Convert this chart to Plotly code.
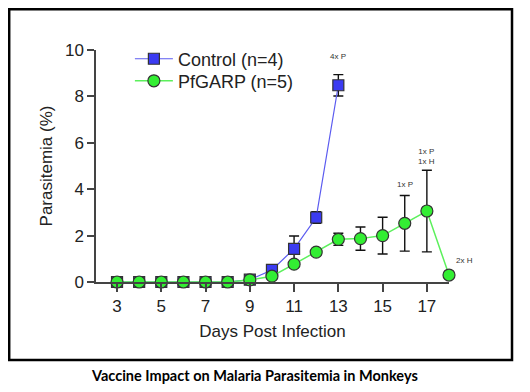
import plotly.graph_objects as go

days_control = [3, 4, 5, 6, 7, 8, 9, 10, 11, 12, 13]
control_mean = [0, 0, 0, 0, 0, 0, 0.1, 0.52, 1.43, 2.78, 8.48]
control_err = [0, 0, 0, 0, 0, 0, 0.02, 0.08, 0.55, 0.25, 0.46]

days_pfgarp = [3, 4, 5, 6, 7, 8, 9, 10, 11, 12, 13, 14, 15, 16, 17, 18]
pfgarp_mean = [0, 0, 0, 0, 0, 0, 0.09, 0.25, 0.77, 1.29, 1.84, 1.87, 2.0, 2.53, 3.06, 0.3]
pfgarp_err = [0, 0, 0, 0, 0, 0, 0.02, 0.04, 0.08, 0.08, 0.26, 0.5, 0.79, 1.2, 1.76, 0.13]

note_days = [13, 16, 17, 18]
note_vals = [9.7, 4.22, 5.42, 0.92]
note_texts = ["4x P", "1x P", "1x P<br>1x H", "2x H"]
note_shift = [0, 0, 0, 15]

x_ticks = [3, 5, 7, 9, 11, 13, 15, 17]
y_ticks = [0, 2, 4, 6, 8, 10]

font_main = "Liberation Sans, Arial, sans-serif"

fig = go.Figure()
fig.add_trace(go.Scatter(
    x=days_control, y=control_mean, name="Control (n=4)", mode="lines+markers",
    line=dict(color="#5b5bf0", width=1.2),
    marker=dict(symbol="square", size=11, color="#3b3bf2", line=dict(color="#333333", width=1.2)),
    error_y=dict(type="data", array=control_err, visible=True, color="#111111", thickness=1.4, width=5),
    cliponaxis=False, legend="legend",
))
fig.add_trace(go.Scatter(
    x=days_pfgarp, y=pfgarp_mean, name="PfGARP (n=5)", mode="lines+markers",
    line=dict(color="#5cf05c", width=1.5),
    marker=dict(symbol="circle", size=12, color="#33ee33", line=dict(color="#333333", width=1.2)),
    error_y=dict(type="data", array=pfgarp_err, visible=True, color="#111111", thickness=1.4, width=5),
    cliponaxis=False, legend="legend2",
))

for xd, yd, t, s in zip(note_days, note_vals, note_texts, note_shift):
    fig.add_annotation(x=xd, y=yd, text=t, showarrow=False, xref="x", yref="y", xshift=s,
                       font=dict(size=8, color="#333333", family=font_main))

fig.add_annotation(x=0.45, y=-0.401, xref="paper", yref="paper", xanchor="center", yanchor="middle",
                   text="<b>Vaccine Impact on Malaria Parasitemia in Monkeys</b>",
                   showarrow=False, font=dict(size=14.5, color="#000000", family="Lato, Open Sans, sans-serif"))

fig.add_shape(type="rect", xref="paper", yref="paper",
              x0=-0.2459, x1=1.1785, y0=-0.336, y1=1.1759,
              line=dict(color="#000000", width=2.5), fillcolor="rgba(0,0,0,0)")

leg_common = dict(xanchor="left", yanchor="middle", itemwidth=38,
                  font=dict(size=18, color="#222222", family=font_main),
                  bgcolor="rgba(0,0,0,0)")

fig.update_layout(
    width=522, height=384,
    margin=dict(l=88, r=81, t=42, b=110, autoexpand=False),
    paper_bgcolor="white", plot_bgcolor="white",
    font=dict(family=font_main, color="#222222"),
    showlegend=True,
    legend=dict(x=0.096, y=0.961, **leg_common),
    legend2=dict(x=0.096, y=0.866, **leg_common),
    xaxis=dict(range=[2.05, 18], tickvals=x_ticks, ticks="outside", ticklen=8, tickwidth=1.5,
               tickcolor="#444444", showline=True, linecolor="#444444", linewidth=1.5,
               showgrid=False, zeroline=False, tickfont=dict(size=17, color="#222222"),
               title=dict(text="Days Post Infection", font=dict(size=17, color="#222222"), standoff=10)),
    yaxis=dict(range=[0, 10], tickvals=y_ticks, ticks="outside", ticklen=7, tickwidth=1.5,
               tickcolor="#444444", showline=True, linecolor="#444444", linewidth=1.5,
               showgrid=False, zeroline=False, tickfont=dict(size=17, color="#222222"),
               title=dict(text="Parasitemia (%)", font=dict(size=17, color="#222222"), standoff=8)),
)

fig.write_html("out.html")
